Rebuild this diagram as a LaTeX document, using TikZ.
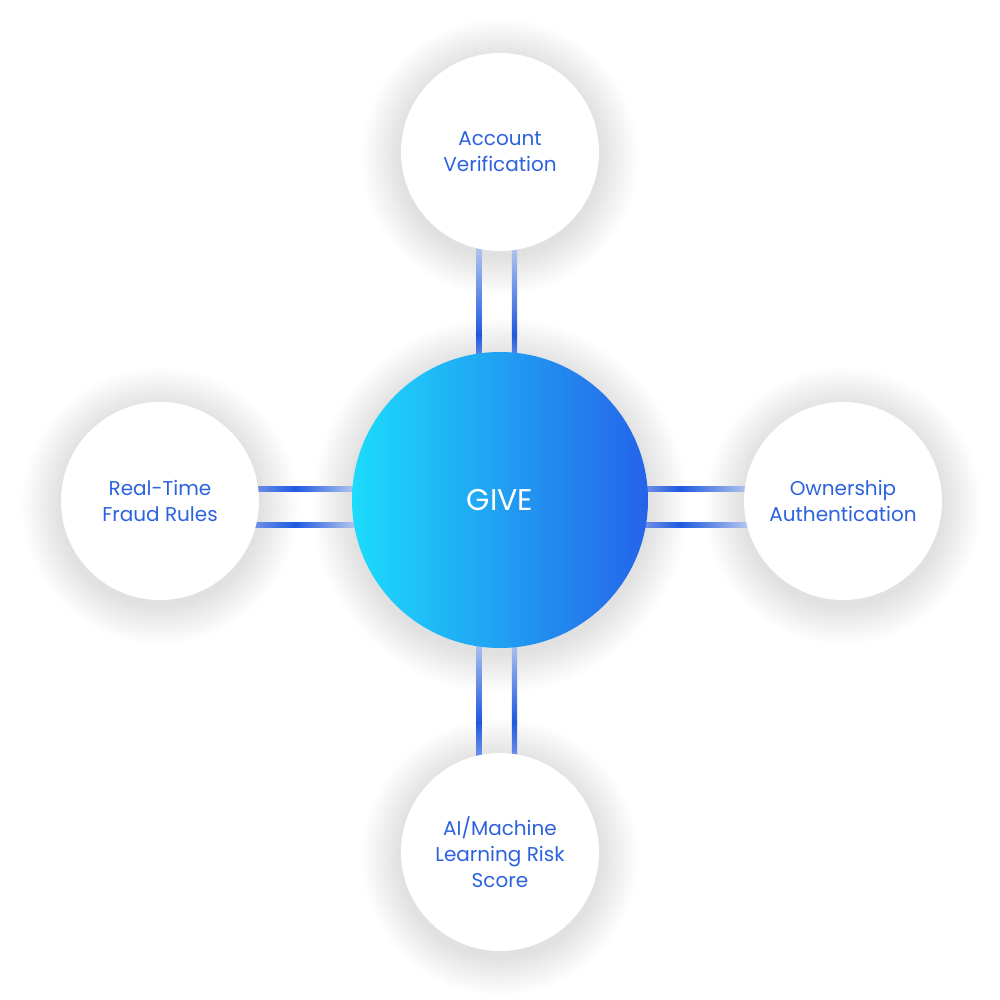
\documentclass[tikz,border=0pt]{standalone}
\usepackage{fontspec}
\setmainfont{Poppins}
\usetikzlibrary{calc}
\pgfdeclarelayer{paper}
\pgfdeclarelayer{shadowlayer}
\pgfdeclarelayer{linklayer}
\pgfsetlayers{paper,shadowlayer,linklayer,main}
\definecolor{txtblue}{HTML}{2D62DF}
\definecolor{cyanL}{HTML}{1CDCFB}
\definecolor{blueR}{HTML}{2563EA}
\definecolor{lineDark}{HTML}{1E5AE0}
\definecolor{lineLight}{HTML}{B4C6EE}
\definecolor{lineMid}{HTML}{6E90E6}
\tikzset{
  outer/.style={circle, fill=white, minimum size=148.5pt, inner sep=0pt, align=center,
    text=txtblue, font=\fontsize{15}{19.5}\selectfont},
  hub/.style={circle, left color=cyanL, right color=blueR, minimum size=222pt, inner sep=0pt,
    text=white, font=\fontsize{22.5}{26}\selectfont},
  shadowring/.style={fill=black, fill opacity=0.0065}
}
\begin{document}
\begin{tikzpicture}[x=0.75pt,y=-0.75pt]
\useasboundingbox (0,0) rectangle (1000,1000);
\node[hub] (hub) at (500,500) {GIVE};
\node[outer] (acct) at (500,152) {Account\\Verification};
\node[outer] (fraud) at (160,501) {Real-Time\\Fraud Rules};
\node[outer] (owner) at (843,501) {Ownership\\Authentication};
\node[outer] (ai) at (500,852) {AI/Machine\\Learning Risk\\Score};

\begin{pgfonlayer}{paper}
  \fill[white] (0,0) rectangle (1000,1000);
\end{pgfonlayer}

\begin{pgfonlayer}{shadowlayer}
  \foreach \n/\r in {hub/148, acct/99, fraud/99, owner/99, ai/99}{
    \foreach \k in {1,...,15}{
      \fill[shadowring] ($(\n.center)+(0,5)$) circle ({(\r+2.6*\k)*0.75pt});
    }
  }
\end{pgfonlayer}

\begin{pgfonlayer}{linklayer}
  % top connector: Account Verification -- hub
  \foreach \dx in {-21,14.5}{
    \fill[top color=lineLight, bottom color=lineDark]
      ($(acct.center)+({\dx-2.6},94)$) rectangle ($(hub.center)+({\dx+2.6},-165)$);
    \fill[top color=lineDark, bottom color=lineMid]
      ($(hub.center)+({\dx-2.6},-165)$) rectangle ($(hub.center)+({\dx+2.6},-140)$);
  }
  % bottom connector: hub -- AI
  \foreach \dx in {-21,14.5}{
    \fill[top color=lineLight, bottom color=lineDark]
      ($(hub.center)+({\dx-2.6},140)$) rectangle ($(hub.center)+({\dx+2.6},222)$);
    \fill[top color=lineDark, bottom color=lineMid]
      ($(hub.center)+({\dx-2.6},222)$) rectangle ($(ai.center)+({\dx+2.6},-96)$);
  }
  % left connector: fraud -- hub
  \foreach \dy in {-11,25}{
    \fill[left color=lineMid, right color=lineDark]
      ($(fraud.center)+(95,{\dy-2.6-1})$) rectangle ($(hub.center)+(-205,{\dy+2.6})$);
    \fill[left color=lineDark, right color=lineLight]
      ($(hub.center)+(-205,{\dy-2.6})$) rectangle ($(hub.center)+(-145,{\dy+2.6})$);
  }
  % right connector: hub -- owner
  \foreach \dy in {-11,25}{
    \fill[left color=lineMid, right color=lineDark]
      ($(hub.center)+(145,{\dy-2.6})$) rectangle ($(hub.center)+(180,{\dy+2.6})$);
    \fill[left color=lineDark, right color=lineLight]
      ($(hub.center)+(180,{\dy-2.6})$) rectangle ($(owner.center)+(-95,{\dy+2.6-1})$);
  }
\end{pgfonlayer}
\end{tikzpicture}
\end{document}
